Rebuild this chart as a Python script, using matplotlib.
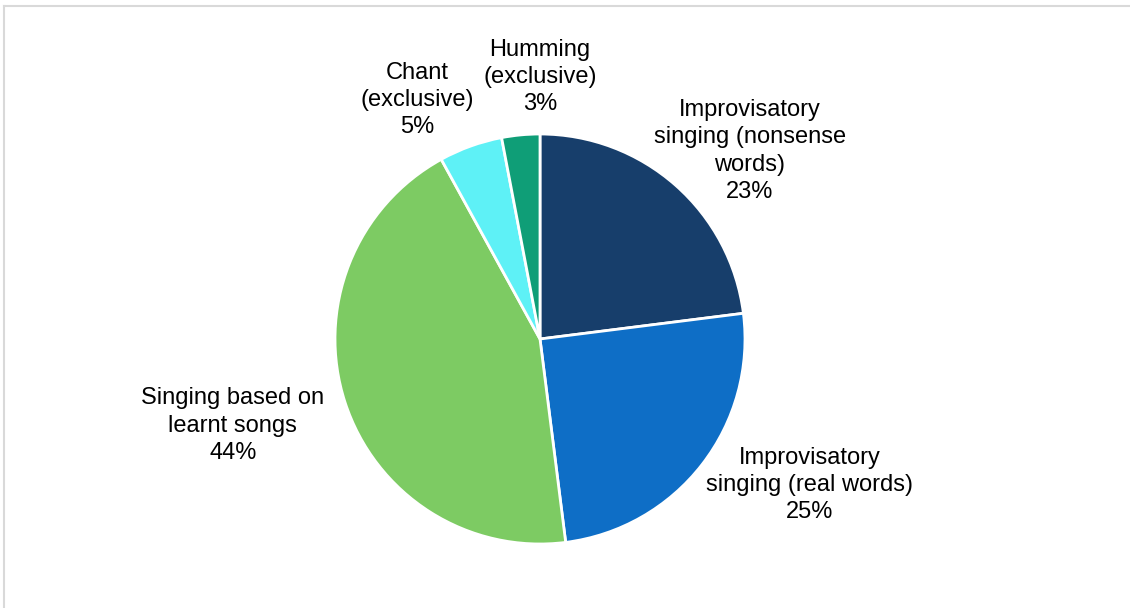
import matplotlib.pyplot as plt
from matplotlib.lines import Line2D

# share of singing types
categories = [
    "Improvisatory\nsinging (nonsense\nwords)",
    "Improvisatory\nsinging (real words)",
    "Singing based on\nlearnt songs",
    "Chant\n(exclusive)",
    "Humming\n(exclusive)",
]
values = [23, 25, 44, 5, 3]
colors = ["#173E6B", "#0E6EC6", "#7DCB63", "#5EF1F6", "#0F9E77"]

# label centres in pie-radius units
label_pos = [(1.024, 0.917), (1.317, -0.712), (-1.498, -0.424), (-0.60, 1.166), (0.0, 1.278)]

plt.rcParams['font.family'] = ['Liberation Sans', 'DejaVu Sans']

fig = plt.figure(figsize=(11.3, 6.08), dpi=100)
fig.patch.set_facecolor("white")

# light frame on top and left like the source
fig.add_artist(Line2D([0.0035, 1.0], [0.9895, 0.9895], transform=fig.transFigure,
                      color="#d9d9d9", linewidth=1.5))
fig.add_artist(Line2D([0.0035, 0.0035], [0.0, 0.9895], transform=fig.transFigure,
                      color="#d9d9d9", linewidth=1.5))

ax = fig.add_axes([(540 - 205) / 1130, (608 - 544) / 608, 410 / 1130, 410 / 608])
ax.pie(values, colors=colors, startangle=90, counterclock=False, radius=1,
       wedgeprops=dict(edgecolor="white", linewidth=2))
ax.set_xlim(-1, 1)
ax.set_ylim(-1, 1)
ax.set_aspect("equal")
ax.axis("off")

for cat, val, (x, y) in zip(categories, values, label_pos):
    ax.text(x, y, "{}\n{}%".format(cat, val), ha="center", va="center",
            fontsize=17, color="#000000", linespacing=1.32, clip_on=False)

plt.savefig("out.png", dpi=100)
